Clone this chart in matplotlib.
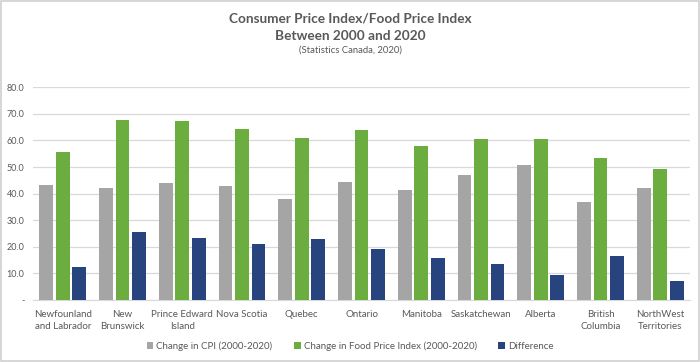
import matplotlib.pyplot as plt
import matplotlib.patches as patches
import numpy as np

## data
provinces = ["Newfounland\nand Labrador", "New\nBrunswick", "Prince Edward\nIsland", "Nova Scotia",
             "Quebec", "Ontario", "Manitoba", "Saskatchewan", "Alberta", "British\nColumbia",
             "NorthWest\nTerritories"]
cpi_change = [43.3, 42.0, 44.0, 43.0, 38.0, 44.4, 41.5, 46.9, 50.9, 37.0, 42.1]
food_change = [55.8, 67.8, 67.5, 64.3, 61.1, 63.8, 57.8, 60.6, 60.4, 53.5, 49.2]
difference = [12.3, 25.7, 23.4, 21.2, 23.1, 19.3, 16.0, 13.5, 9.4, 16.6, 7.0]
series_names = ["Change in CPI (2000-2020)", "Change in Food Price Index (2000-2020)", "Difference"]
y_ticks = [0, 10, 20, 30, 40, 50, 60, 70, 80]

plt.rcParams['font.family'] = ['Lato', 'DejaVu Sans']
txt = '#595959'

fig = plt.figure(figsize=(7, 3.62), dpi=100)
ax = fig.add_axes([0.047, 0.171, 0.939, 0.588])

# frame around the whole chart
fig.patches.append(patches.Rectangle((0.002, 0.004), 0.996, 0.992, transform=fig.transFigure,
                                     fill=False, edgecolor='#D0D0D0', linewidth=1.2))

x = np.arange(len(provinces))
w = 0.23
step = 0.277
ax.bar(x - step, cpi_change, w, color='#A5A5A5', label=series_names[0], zorder=3)
ax.bar(x, food_change, w, color='#6BAE3F', label=series_names[1], zorder=3)
ax.bar(x + step, difference, w, color='#27447F', label=series_names[2], zorder=3)

ax.set_xlim(-0.5, len(provinces) - 0.5)
ax.set_ylim(0, 80)
ax.set_yticks(y_ticks)
ax.set_yticklabels(['-'] + [f"{v:.1f}" for v in y_ticks[1:]])
ax.grid(axis='y', color='#D9D9D9', linewidth=0.9, zorder=0)
for s in ['top', 'right', 'left']:
    ax.spines[s].set_visible(False)
ax.spines['bottom'].set_color('#D9D9D9')
ax.tick_params(axis='y', length=0, labelsize=6.5, labelcolor=txt, pad=6)
ax.tick_params(axis='x', length=0, labelsize=7, labelcolor=txt, pad=7)
ax.set_xticks(x)
ax.set_xticklabels(provinces, va='top', linespacing=1.45)

fig.text(0.5, 0.950, "Consumer Price Index/Food Price Index", ha='center', va='center',
         fontsize=9.8, fontweight='bold', color=txt)
fig.text(0.5, 0.901, "Between 2000 and 2020", ha='center', va='center',
         fontsize=9.8, fontweight='bold', color=txt)
fig.text(0.5, 0.861, "(Statistics Canada, 2020)", ha='center', va='center',
         fontsize=6.8, color=txt)

leg = fig.legend(loc='center', bbox_to_anchor=(0.5, 0.043), ncol=3, frameon=False,
                 fontsize=7, handlelength=0.7, handleheight=0.7, handletextpad=0.3,
                 columnspacing=2.2)
for t in leg.get_texts():
    t.set_color(txt)

fig.savefig("out.png", dpi=100)
